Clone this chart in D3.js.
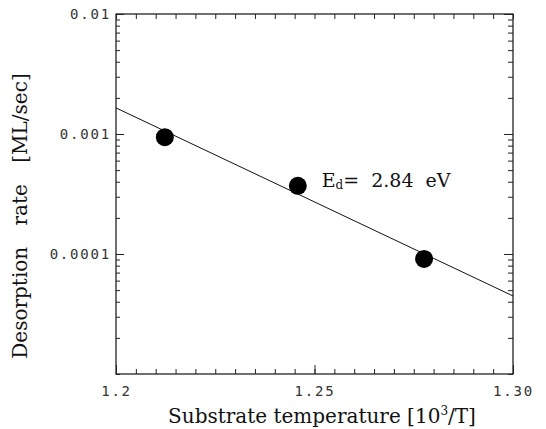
<!DOCTYPE html>
<html>
<head>
<meta charset="utf-8">
<script src="https://cdn.jsdelivr.net/npm/d3@7"></script>
<style>
body { margin: 0; background: #fff; }
.tick text { font-family: "DejaVu Sans Mono", monospace; font-size: 14px; letter-spacing: 1.8px; fill: #333; }
</style>
</head>
<body>
<svg width="546" height="429"></svg>
<script>
// measured points (x = 1000/T, y = desorption rate)
var tempInv = [1.2123, 1.2458, 1.2776];
var rate = [0.00094, 0.00037, 0.000091];
// fitted Arrhenius line end points
var fitX = [1.2, 1.30];
var fitY = [0.00165, 0.0000447];
var xTickLabels = ["1.2", "1.25", "1.30"];
var yTickLabels = ["0.01", "0.001", "0.0001"];

var svg = d3.select("svg"),
    margin = {top: 14, right: 33, bottom: 55, left: 116},
    width = 546 - margin.left - margin.right,
    height = 429 - margin.top - margin.bottom;

var g = svg.append("g").attr("transform", "translate(" + margin.left + "," + margin.top + ")");

var x = d3.scaleLinear().domain([1.2, 1.30]).range([0, width]);
var y = d3.scaleLog().domain([1e-5, 1e-2]).range([height, 0]);

var minorX = d3.range(0, 21).map(function(i) { return 1.2 + i * 0.005; });
var minorY = [];
[1e-5, 1e-4, 1e-3].forEach(function(d) {
  for (var k = 1; k < 10; k++) minorY.push(d * k);
});
minorY.push(1e-2);

function noDomain(a) { a.select(".domain").remove(); }

// frame
g.append("rect").attr("width", width).attr("height", height)
  .attr("fill", "none").attr("stroke", "#111").attr("stroke-width", 1.2);

// bottom axis ticks (inward)
g.append("g").attr("transform", "translate(0," + height + ")")
  .call(d3.axisTop(x).tickValues(minorX).tickSize(5).tickFormat("")).call(noDomain);
g.append("g").attr("transform", "translate(0," + height + ")")
  .call(d3.axisTop(x).tickValues([1.2, 1.25, 1.30]).tickSize(9).tickFormat("")).call(noDomain);
g.append("g").attr("transform", "translate(0," + height + ")")
  .call(d3.axisBottom(x).tickValues([1.2, 1.25, 1.30]).tickSize(0).tickPadding(12)
    .tickFormat(function(d, i) { return xTickLabels[i]; }))
  .call(noDomain);

// top axis ticks
g.append("g")
  .call(d3.axisBottom(x).tickValues(minorX).tickSize(5).tickFormat("")).call(noDomain);

// left axis
g.append("g")
  .call(d3.axisRight(y).tickValues(minorY).tickSize(4).tickFormat("")).call(noDomain);
g.append("g")
  .call(d3.axisRight(y).tickValues([1e-2, 1e-3, 1e-4]).tickSize(8).tickFormat("")).call(noDomain);
g.append("g")
  .call(d3.axisLeft(y).tickValues([1e-2, 1e-3, 1e-4]).tickSize(0).tickPadding(5)
    .tickFormat(function(d, i) { return yTickLabels[i]; }))
  .call(noDomain);

// right axis
g.append("g").attr("transform", "translate(" + width + ",0)")
  .call(d3.axisLeft(y).tickValues(minorY).tickSize(5).tickFormat("")).call(noDomain);
g.append("g").attr("transform", "translate(" + width + ",0)")
  .call(d3.axisLeft(y).tickValues([1e-2, 1e-3, 1e-4]).tickSize(9).tickFormat("")).call(noDomain);

g.selectAll(".tick line").attr("stroke", "#222");

// fit line
var line = d3.line()
  .x(function(d) { return x(d[0]); })
  .y(function(d) { return y(d[1]); });
g.append("path")
  .datum(d3.zip(fitX, fitY))
  .attr("d", line)
  .attr("fill", "none").attr("stroke", "#111").attr("stroke-width", 1);

// points
g.selectAll(".pt")
  .data(d3.zip(tempInv, rate))
  .enter().append("circle")
    .attr("class", "pt")
    .attr("cx", function(d) { return x(d[0]); })
    .attr("cy", function(d) { return y(d[1]); })
    .attr("r", 9)
    .attr("fill", "#000");

// annotation
var ann = g.append("text")
  .attr("x", x(1.2518)).attr("y", y(0.00037) + 1)
  .attr("font-family", "'DejaVu Serif', serif").attr("font-size", 19).attr("fill", "#111");
ann.append("tspan").text("E");
ann.append("tspan").attr("font-size", 12).attr("dy", 2).text("d");
ann.append("tspan").attr("dy", -2).text("=\u00a0 2.84\u00a0 eV");

// axis titles
var xt = svg.append("text")
  .attr("x", 322).attr("y", 423)
  .attr("text-anchor", "middle")
  .attr("font-family", "'DejaVu Serif', serif").attr("font-size", 20).attr("fill", "#111");
xt.append("tspan").text("Substrate temperature [10");
xt.append("tspan").attr("font-size", 12).attr("dy", -8).text("3");
xt.append("tspan").attr("dy", 8).text("/T]");

svg.append("text")
  .attr("transform", "translate(27,216) rotate(-90)")
  .attr("text-anchor", "middle")
  .attr("font-family", "'DejaVu Serif', serif").attr("font-size", 20).attr("fill", "#111")
  .attr("word-spacing", 15)
  .text("Desorption rate [ML/sec]");
</script>
</body>
</html>
